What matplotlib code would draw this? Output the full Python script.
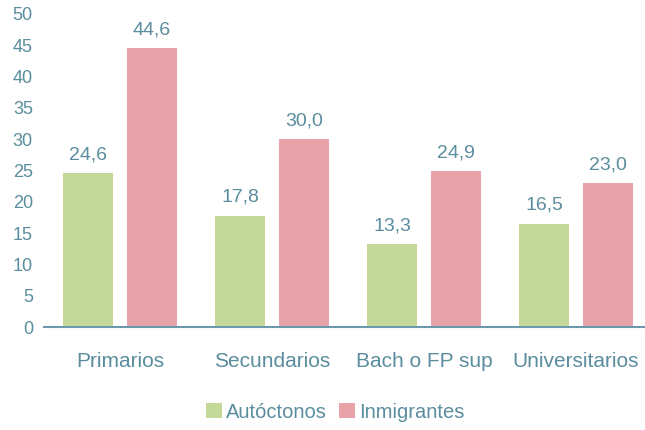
import matplotlib.pyplot as plt
import numpy as np

categories = ["Primarios", "Secundarios", "Bach o FP sup", "Universitarios"]
autoctonos = [24.6, 17.8, 13.3, 16.5]
inmigrantes = [44.6, 30.0, 24.9, 23.0]
yticks = list(range(0, 55, 5))

text_color = "#5a8d9e"
green = "#c4d899"
pink = "#e8a3aa"

plt.rcParams["font.family"] = ["Liberation Sans", "DejaVu Sans"]

fig = plt.figure(figsize=(6.45, 4.3), dpi=100)
ax = fig.add_axes([44 / 645, 103 / 430, 608 / 645, 313 / 430])

x = np.arange(len(categories))
w = 0.33
off = 0.21
b1 = ax.bar(x - off, autoctonos, w, color=green, label="Autóctonos")
b2 = ax.bar(x + off, inmigrantes, w, color=pink, label="Inmigrantes")

for bars in (b1, b2):
    for rect in bars:
        v = rect.get_height()
        ax.annotate(f"{v:.1f}".replace(".", ","),
                    (rect.get_x() + rect.get_width() / 2, v),
                    xytext=(0, 7), textcoords="offset points",
                    ha="center", va="bottom", fontsize=14, color=text_color)

ax.set_xlim(-0.5, len(categories) - 0.5)
ax.set_ylim(0, 50)
ax.set_yticks(yticks)
ax.set_xticks(x)
ax.set_xticklabels(categories, fontsize=15)
ax.tick_params(axis="y", length=0, labelsize=13, labelcolor=text_color, pad=8)
ax.tick_params(axis="x", length=0, labelcolor=text_color, pad=18)

for s in ("top", "right", "left"):
    ax.spines[s].set_visible(False)
ax.spines["bottom"].set_color("#6a9aab")
ax.spines["bottom"].set_linewidth(1.5)

fig.legend(loc="center", bbox_to_anchor=(0.52, 18 / 430), ncol=2, frameon=False,
           fontsize=14.5, labelcolor=text_color, handlelength=0.8, handleheight=0.8,
           handletextpad=0.2, columnspacing=0.6)

fig.savefig("out.png", dpi=100)
